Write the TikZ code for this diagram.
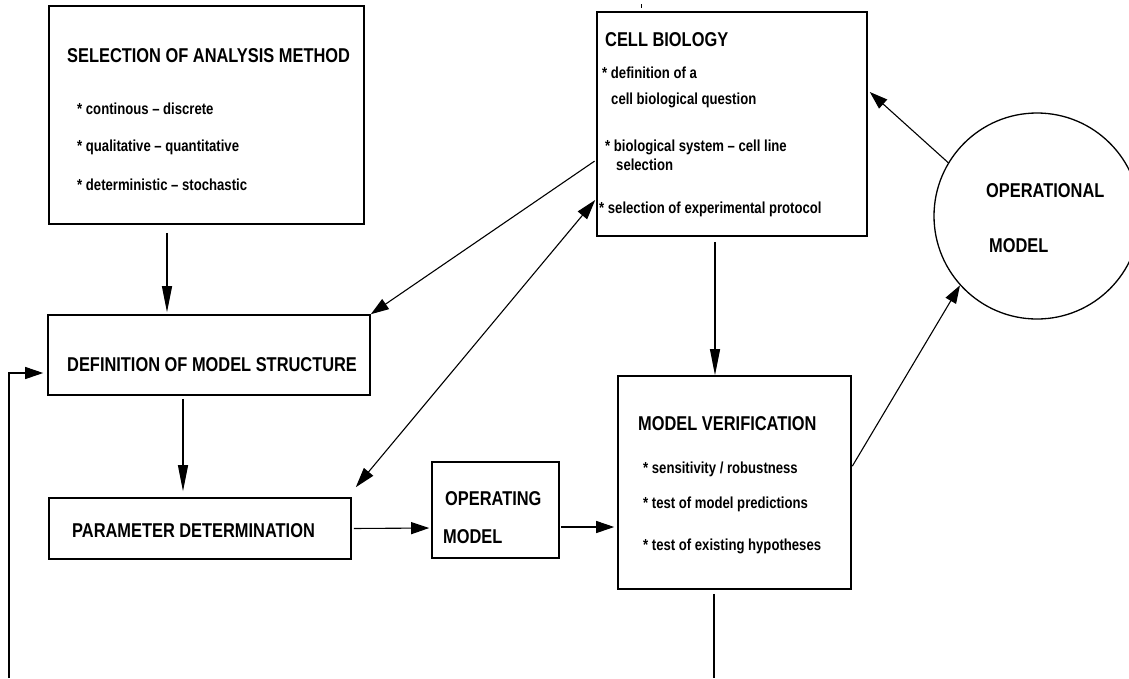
\documentclass[tikz,border=0pt]{standalone}
\usepackage{fontspec}
\setmainfont{Liberation Sans}[FakeStretch=0.82]
\usetikzlibrary{arrows.meta}
\begin{document}
\begin{tikzpicture}[x=1pt,y=-1pt,
  box/.style={draw, line width=1.6pt, rectangle, inner sep=0pt},
  ttl/.style={anchor=base west, inner sep=0pt, font=\bfseries\fontsize{20}{24}\selectfont},
  itm/.style={anchor=base west, inner sep=0pt, font=\bfseries\fontsize{16}{19}\selectfont},
  con/.style={line width=1.1pt},
  arr/.style={con, -{Triangle[length=18pt,width=12pt]}},
  varr/.style={con, -{Triangle[length=26pt,width=10pt]}},
  darr/.style={con, {Triangle[length=20pt,width=12pt]}-{Triangle[length=20pt,width=12pt]}}]
\clip (0,0) rectangle (1129,678);
\fill[white] (0,0) rectangle (1129,678);

% boxes
\node[box, minimum width=315pt, minimum height=218pt] (sel)  at (206.5,115) {};
\node[box, minimum width=322pt, minimum height=80pt]  (def)  at (209,355)   {};
\node[box, minimum width=302pt, minimum height=61pt]  (par)  at (200,528.5) {};
\node[box, minimum width=127pt, minimum height=96pt]  (op)   at (495.5,510) {};
\node[box, minimum width=233pt, minimum height=213pt] (ver)  at (734.5,482.5) {};
\node[box, minimum width=270pt, minimum height=224pt] (cell) at (732,124)   {};
\node[draw, circle, line width=1.3pt, minimum size=206pt, inner sep=0pt] (opm) at (1037,216) {};

% texts
\node[ttl] (selT)  at (67,62)  {SELECTION OF ANALYSIS METHOD};
\node[itm] (selA)  at (77,114) {* continous – discrete};
\node[itm] (selB)  at (77,151) {* qualitative – quantitative};
\node[itm] (selC)  at (77,190) {* deterministic – stochastic};

\node[ttl] (defT)  at (67,371) {DEFINITION OF MODEL STRUCTURE};
\node[ttl] (parT)  at (72,537) {PARAMETER DETERMINATION};
\node[ttl] (opT1)  at (445,505) {OPERATING};
\node[ttl] (opT2)  at (443,543) {MODEL};

\node[ttl] (verT)  at (638,430) {MODEL VERIFICATION};
\node[itm] (verA)  at (643,473) {* sensitivity / robustness};
\node[itm] (verB)  at (643,508) {* test of model predictions};
\node[itm] (verC)  at (643,550) {* test of existing hypotheses};

\node[ttl] (cellT) at (605,46)  {CELL BIOLOGY};
\node[itm] (cellA) at (602,78)  {* definition of a};
\node[itm] (cellB) at (611,104) {cell biological question};
\node[itm] (cellC) at (605,151) {* biological system – cell line};
\node[itm] (cellD) at (616,170) {selection};
\node[itm] (cellE) at (599,213) {* selection of experimental protocol};

\node[ttl] (opmT1) at (986,197) {OPERATIONAL};
\node[ttl] (opmT2) at (989,252) {MODEL};

% connectors
\draw[varr, shorten <=8pt, shorten >=2pt] ([xshift=-39.5pt]sel.south) -- ([xshift=-42pt]def.north);
\draw[varr, shorten <=3pt, shorten >=6pt] ([xshift=-26pt]def.south) -- ([xshift=-17pt]par.north);
\draw[arr, shorten <=2pt, shorten >=2pt] (par.east) -- ([yshift=-18pt]op.west);
\draw[arr, shorten <=1pt, shorten >=3pt] ([yshift=-17pt]op.east) -- ([yshift=-44.5pt]ver.west);
\draw[varr, shorten <=5pt] ([xshift=-17pt]cell.south) -- ([xshift=-19.5pt]ver.north);
\draw[arr, shorten <=1pt] ([yshift=15.5pt]ver.east) -- (opm.222.7);
\draw[arr] (opm.149.2) -- ([shift={(2pt,32pt)}]cell.east);
\draw[arr, shorten <=2pt] ([yshift=-36pt]cell.west) -- (def.north east);
\draw[darr] ([shift={(4pt,10pt)}]par.north east) -- ([shift={(-1pt,-76pt)}]cell.west);

% feedback path and outgoing line, both running off the lower edge
\coordinate (fb) at (9,678);
\coordinate (vb) at (714,678);
\draw[arr] (fb) |- ([shift={(-4pt,-18pt)}]def.west);
\draw[con] ([shift={(-20.5pt,-4pt)}]ver.south) -- (vb);

% small mark above the cell biology box
\coordinate (tk) at (641,4);
\draw[line width=1pt] (tk) -- ++(0,4);
\end{tikzpicture}
\end{document}
